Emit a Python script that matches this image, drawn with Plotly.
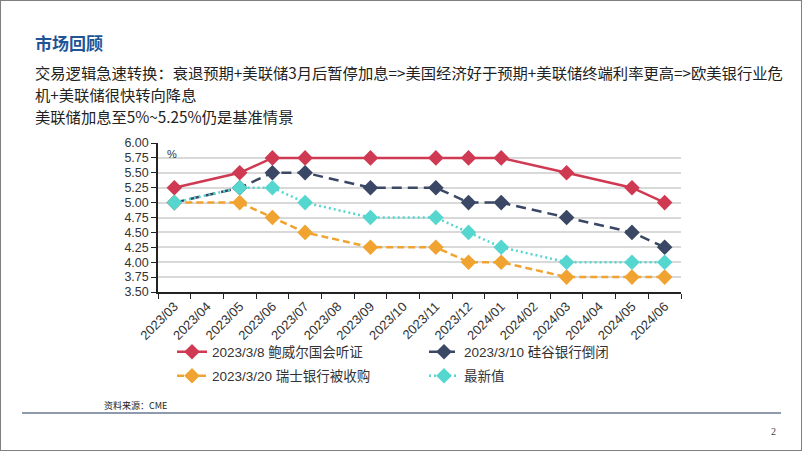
import plotly.graph_objects as go

months = ["2023/03", "2023/04", "2023/05", "2023/06", "2023/07", "2023/08", "2023/09", "2023/10",
          "2023/11", "2023/12", "2024/01", "2024/02", "2024/03", "2024/04", "2024/05", "2024/06"]
meeting_months = ["2023/03", "2023/05", "2023/06", "2023/07", "2023/09", "2023/11",
                  "2023/12", "2024/01", "2024/03", "2024/05", "2024/06"]

powell_0308 = [5.25, 5.50, 5.75, 5.75, 5.75, 5.75, 5.75, 5.75, 5.50, 5.25, 5.00]
svb_0310 = [5.00, 5.25, 5.50, 5.50, 5.25, 5.25, 5.00, 5.00, 4.75, 4.50, 4.25]
ubs_0320 = [5.00, 5.00, 4.75, 4.50, 4.25, 4.25, 4.00, 4.00, 3.75, 3.75, 3.75]
latest = [5.00, 5.25, 5.25, 5.00, 4.75, 4.75, 4.50, 4.25, 4.00, 4.00, 4.00]

series_names = ["2023/3/8 鲍威尔国会听证", "2023/3/10 硅谷银行倒闭",
                "2023/3/20 瑞士银行被收购", "最新值"]
y_ticks = [3.50, 3.75, 4.00, 4.25, 4.50, 4.75, 5.00, 5.25, 5.50, 5.75, 6.00]

W, H = 802, 451
CJK = "Noto Sans CJK SC"

fig = go.Figure()
specs = [
    (powell_0308, series_names[0], "#CF3A52", "solid", "legend"),
    (svb_0310, series_names[1], "#3A4865", "10px,6px", "legend"),
    (ubs_0320, series_names[2], "#F0A330", "7px,4px", "legend2"),
    (latest, series_names[3], "#55D6CF", "2px,3px", "legend2"),
]
for vals, name, color, dash, leg in specs:
    fig.add_trace(go.Scatter(
        x=meeting_months, y=vals, name=name, mode="lines+markers",
        line=dict(color=color, width=2.5, dash=dash),
        marker=dict(symbol="diamond", size=12, color=color),
        legend=leg,
    ))

leg_font = dict(size=13.5, family="Liberation Sans, " + CJK, color="#333333")
fig.update_layout(
    width=W, height=H,
    margin=dict(l=0, r=0, t=0, b=0, autoexpand=False),
    paper_bgcolor="white", plot_bgcolor="white",
    font=dict(family="Liberation Sans, Arial, " + CJK, color="#333333"),
    xaxis=dict(
        domain=[158 / W, 681 / W], automargin=False,
        type="category", categoryorder="array", categoryarray=months,
        tickmode="array", tickvals=months, ticktext=months,
        tickson="boundaries", ticks="outside", ticklen=5, tickcolor="#222",
        showline=True, linecolor="#222", linewidth=1.5,
        showgrid=False, tickangle=-45,
        tickfont=dict(size=13, color="#333333"),
        range=[-0.5, 15.5],
    ),
    yaxis=dict(
        domain=[1 - 292 / H, 1 - 143 / H], automargin=False,
        range=[3.5, 6.0], tickvals=y_ticks, tickformat=".2f",
        ticks="outside", ticklen=5, tickcolor="#222",
        showline=True, linecolor="#222", linewidth=1.5,
        showgrid=True, gridcolor="#D9D9D9", gridwidth=2,
        zeroline=False,
        tickfont=dict(size=12.5, color="#333333"),
    ),
    legend=dict(orientation="h", x=172 / W, y=1 - 352 / H, xanchor="left", yanchor="middle",
                entrywidth=207, entrywidthmode="pixels", font=leg_font,
                bgcolor="rgba(0,0,0,0)"),
    legend2=dict(orientation="h", x=172 / W, y=1 - 376 / H, xanchor="left", yanchor="middle",
                 entrywidth=207, entrywidthmode="pixels", font=leg_font,
                 bgcolor="rgba(0,0,0,0)"),
    showlegend=True,
)

body_font = dict(size=15.3, color="#222222", family=CJK)
annotations = [
    dict(text="<b>市场回顾</b>", x=33 / W, y=1 - 42 / H, xanchor="left", yanchor="middle",
         font=dict(size=17, color="#1F5597", family=CJK)),
    dict(text="交易逻辑急速转换：衰退预期+美联储3月后暂停加息=>美国经济好于预期+美联储终端利率更高=>欧美银行业危",
         x=33 / W, y=1 - 72 / H, xanchor="left", yanchor="middle", font=body_font),
    dict(text="机+美联储很快转向降息", x=33 / W, y=1 - 94 / H, xanchor="left", yanchor="middle",
         font=body_font),
    dict(text="美联储加息至5%~5.25%仍是基准情景", x=33 / W, y=1 - 116 / H, xanchor="left", yanchor="middle",
         font=body_font),
    dict(text="%", x=165 / W, y=1 - 154 / H, xanchor="left", yanchor="middle",
         font=dict(size=11, color="#333333")),
    dict(text="资料来源：CME", x=102 / W, y=1 - 405 / H, xanchor="left", yanchor="middle",
         font=dict(size=9, color="#222222", family=CJK)),
    dict(text="2", x=773 / W, y=1 - 431 / H, xanchor="center", yanchor="middle",
         font=dict(size=10, color="#444444", family="Liberation Serif")),
]
for a in annotations:
    a.update(xref="paper", yref="paper", showarrow=False)
fig.update_layout(annotations=annotations)

fig.update_layout(shapes=[
    dict(type="line", xref="paper", yref="paper", x0=22 / W, x1=781 / W,
         y0=1 - 413 / H, y1=1 - 413 / H, line=dict(color="#8E9BAE", width=2)),
    dict(type="rect", xref="paper", yref="paper", x0=0, x1=1, y0=0, y1=1,
         line=dict(color="#7F7F7F", width=2)),
])

fig.write_html("out.html", config={"displayModeBar": False},
               post_script="document.body.style.margin='0';document.body.style.overflow='hidden';")
